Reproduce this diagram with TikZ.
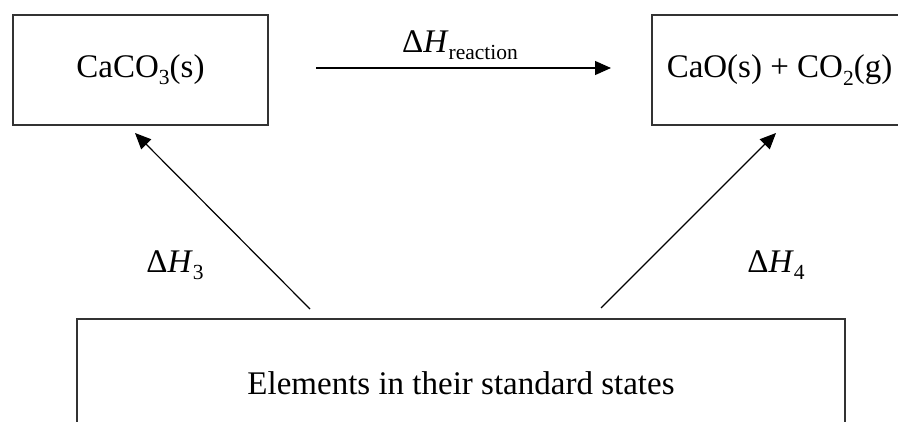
\documentclass[tikz,border=0pt]{standalone}
\usepackage{fontspec}
\setmainfont{Liberation Serif}
\usetikzlibrary{arrows.meta}
\newcommand\mysub[1]{\raisebox{-0.22em}{\fontsize{21.5}{22}\selectfont #1}}
\tikzset{
  x=1pt, y=-1pt,
  chembox/.style={draw=black!80, line width=1.3pt, inner sep=0pt, font=\fontsize{33}{40}\selectfont},
  rarrow/.style={line width=1.2pt, -{Triangle[length=16pt,width=14pt]}},
  lbl/.style={font=\fontsize{33}{40}\selectfont, inner sep=0pt}
}
\begin{document}
\begin{tikzpicture}
\useasboundingbox (0,0) rectangle (898,422);
\clip (0,0) rectangle (898,422);
\fill[white] (0,0) rectangle (898,422);
\node[chembox, minimum width=255pt, minimum height=110pt] (caco3) at (140.5,70) {CaCO\mysub{3}(s)};
\node[chembox, minimum width=255pt, minimum height=110pt] (cao) at (779.5,70) {CaO(s) + CO\mysub{2}(g)};
\node[chembox, minimum width=768pt, minimum height=128pt] (elem) at (461,383) {Elements in their standard states};
\coordinate (hs) at (316,68);
\coordinate (he) at (611,68);
\coordinate (ls) at (310,309);
\coordinate (le) at (135,133);
\coordinate (rs) at (601,308);
\coordinate (re) at (776,133);
\draw[rarrow] (hs) -- (he);
\draw[rarrow] (ls) -- (le);
\draw[rarrow] (rs) -- (re);
\node[lbl] (lh) at (460,45) {Δ\textit{H}\mysub{reaction}};
\node[lbl] (l3) at (175,265) {Δ\textit{H}\mysub{3}};
\node[lbl] (l4) at (776,265) {Δ\textit{H}\mysub{4}};
\end{tikzpicture}
\end{document}
